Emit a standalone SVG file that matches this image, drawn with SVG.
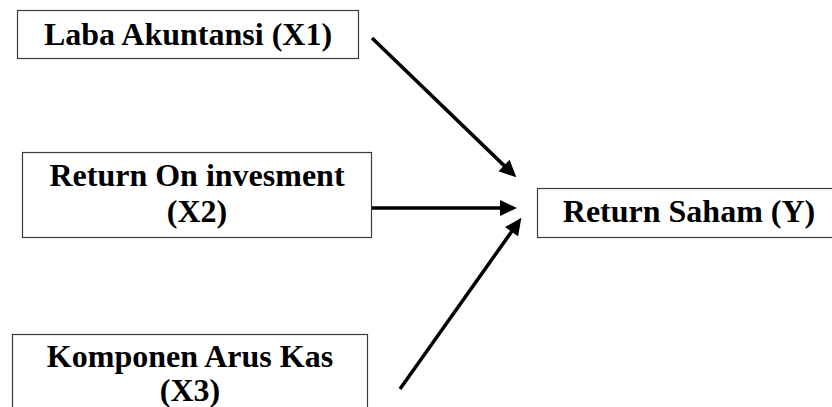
<svg xmlns="http://www.w3.org/2000/svg" width="832" height="407" viewBox="0 0 832 407">
<style>
.box{fill:#fff;stroke:#3a3a3a;stroke-width:1.2}
.c{stroke:#000;stroke-width:3.5;fill:none;marker-end:url(#ah)}
</style>
<defs>
<marker id="ah" markerUnits="userSpaceOnUse" markerWidth="18" markerHeight="16" refX="7" refY="8" orient="auto" overflow="visible">
<path d="M0,0 L17,8 L0,16 z" fill="#000"/>
</marker>
</defs>
<rect width="832" height="407" fill="#fff"/>
<g font-family="Liberation Serif, serif" font-weight="bold" font-size="32" text-anchor="middle" fill="#000">
<g id="x1">
<rect class="box" x="17.5" y="10.5" width="341" height="48"/>
<text x="188" y="45">Laba Akuntansi (X1)</text>
</g>
<g id="x2">
<rect class="box" x="22.5" y="152.5" width="349" height="85"/>
<text x="197" y="186">Return On invesment</text>
<text x="197" y="222">(X2)</text>
</g>
<g id="x3">
<rect class="box" x="12.5" y="334.5" width="355" height="90"/>
<text x="190" y="367">Komponen Arus Kas</text>
<text x="190" y="401">(X3)</text>
</g>
<g id="y">
<rect class="box" x="537.5" y="188.5" width="310" height="49"/>
<text x="689" y="222">Return Saham (Y)</text>
</g>
</g>
<g id="connectors">
<line class="c" x1="372" y1="38" x2="509.1" y2="170.4"/>
<line class="c" x1="372" y1="208" x2="507" y2="208"/>
<line class="c" x1="400" y1="389" x2="515.6" y2="226"/>
</g>
</svg>
